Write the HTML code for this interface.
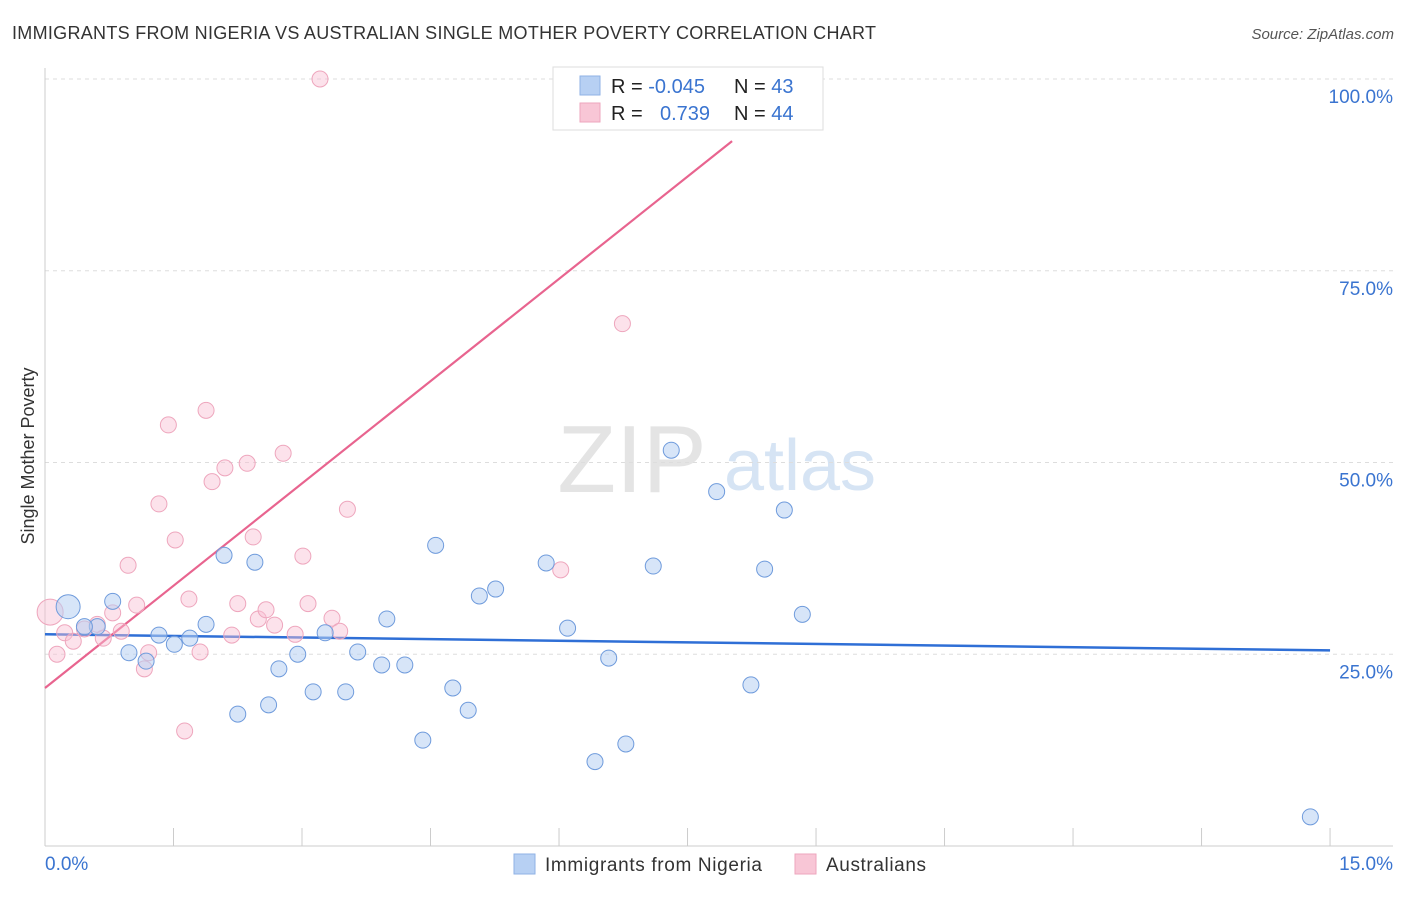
<!DOCTYPE html>
<html><head><meta charset="utf-8"><style>
body{margin:0;background:#fff;font-family:"Liberation Sans",sans-serif;}
svg text{font-family:"Liberation Sans",sans-serif;}
</style></head><body>
<svg id="c" width="1406" height="892" xmlns="http://www.w3.org/2000/svg">
<text x="12" y="39" font-size="18" fill="#333" textLength="864">IMMIGRANTS FROM NIGERIA VS AUSTRALIAN SINGLE MOTHER POVERTY CORRELATION CHART</text>
<text x="1394" y="39" font-size="15" fill="#555" text-anchor="end" font-style="italic">Source: ZipAtlas.com</text>
<text x="34" y="456" font-size="18" fill="#333" text-anchor="middle" transform="rotate(-90 34 456)">Single Mother Poverty</text>
<g><text x="632" y="492" font-size="96" fill="#e4e4e4" text-anchor="middle" font-family="Liberation Serif">ZIP</text><text x="800" y="490" font-size="72" fill="#d6e4f4" text-anchor="middle">atlas</text></g>
<g id="grid"></g><g id="axes"></g><g id="trend"></g><g id="pts"></g>
<g>
<rect x="553" y="67" width="270" height="63" fill="#fff" stroke="#ddd"/>
<rect x="580" y="76" width="20" height="19" fill="#b7d0f3" stroke="#8fb2e6"/>
<rect x="580" y="103" width="20" height="19" fill="#f8c6d6" stroke="#eea6bd"/>
<text x="611" y="93" font-size="20" fill="#222">R = <tspan fill="#3a74d0">-0.045</tspan></text>
<text x="734" y="93" font-size="20" fill="#222">N = <tspan fill="#3a74d0">43</tspan></text>
<text x="611" y="120" font-size="20" fill="#222">R = <tspan fill="#3a74d0" x="660">0.739</tspan></text>
<text x="734" y="120" font-size="20" fill="#222">N = <tspan fill="#3a74d0">44</tspan></text>
</g>
<g>
<rect x="514" y="854" width="21" height="20" fill="#b7d0f3" stroke="#8fb2e6"/>
<text x="545" y="871" font-size="19" fill="#333" textLength="217">Immigrants from Nigeria</text>
<rect x="795" y="854" width="21" height="20" fill="#f8c6d6" stroke="#eea6bd"/>
<text x="826" y="871" font-size="19" fill="#333" textLength="100">Australians</text>
</g>
</svg>
<script>
const blueX=[0.27,0.79,0.61,0.46,0.98,1.18,1.33,1.51,1.69,1.88,2.09,2.25,2.45,2.61,2.73,2.95,3.13,3.27,3.51,3.65,3.93,3.99,4.20,4.41,4.56,4.76,4.94,5.07,5.26,5.85,6.10,6.42,6.58,6.78,7.10,7.31,7.84,8.24,8.40,8.63,8.84,14.77];
const blueY=[31.2,31.9,28.6,28.6,25.2,24.1,27.5,26.3,27.1,28.9,37.9,17.2,37.0,18.4,23.1,25.0,20.1,27.8,20.1,25.3,23.6,29.6,23.6,13.8,39.2,20.6,17.7,32.6,33.5,36.9,28.4,11.0,24.5,13.3,36.5,51.6,46.2,21.0,36.1,43.8,30.2,3.8];
const pinkX=[0.06,0.14,0.23,0.33,0.46,0.61,0.68,0.79,0.89,0.97,1.07,1.16,1.21,1.33,1.44,1.52,1.63,1.68,1.81,1.88,1.95,2.10,2.18,2.25,2.36,2.43,2.49,2.58,2.68,2.78,2.92,3.01,3.07,3.21,3.35,3.44,3.53,6.02,6.74,6.15,7.65];
const pinkY=[30.5,25.0,27.8,26.7,28.3,28.9,27.1,30.4,28.0,36.6,31.4,23.1,25.2,44.6,54.9,39.9,15.0,32.2,25.3,56.8,47.5,49.3,27.5,31.6,49.9,40.3,29.6,30.8,28.8,51.2,27.6,37.8,31.6,100,29.7,28.0,43.9,36.0,68.1,100,100];
const blueTrend=[27.6,25.5];
const pinkTrend=[20.6,91.9];
const pinkTrendEndX=8.02;
const yTicks=[25,50,75,100];
const xTickVals=[0,1.5,3,4.5,6,7.5,9,10.5,12,13.5,15];
const NS='http://www.w3.org/2000/svg';
const X=v=>45+v*85.67, Y=v=>846-v*7.67;
function mk(p,t,a){const e=document.createElementNS(NS,t);for(const k in a)e.setAttribute(k,a[k]);document.getElementById(p).appendChild(e);return e;}
yTicks.forEach(v=>{
 const g=mk('grid','line',{x1:45,x2:1393,y1:Y(v),y2:Y(v),stroke:'#ddd','stroke-dasharray':'4 4'});
 
 
 const t=mk('grid','text',{x:1393,y:Y(v)+24,'font-size':19,fill:'#3a74d0','text-anchor':'end'});
 t.textContent=v.toFixed(1)+'%';
 
 
});
let a=mk('axes','line',{x1:45,x2:45,y1:68,y2:846,stroke:'#ccc'});


a=mk('axes','line',{x1:45,x2:1393,y1:846,y2:846,stroke:'#ccc'});


xTickVals.forEach(v=>{const t=mk('axes','line',{x1:X(v),x2:X(v),y1:828,y2:846,stroke:'#ccc'});
 
 });
let l=mk('axes','text',{x:45,y:870,'font-size':19,fill:'#3a74d0'});l.textContent='0.0%';


l=mk('axes','text',{x:1393,y:870,'font-size':19,fill:'#3a74d0','text-anchor':'end'});l.textContent='15.0%';


for(let i=0;i<pinkX.length;i++){const c=mk('pts','circle',{cx:X(pinkX[i]),cy:Y(pinkY[i]),r:i==0?13:8,fill:'rgba(248,190,210,0.45)',stroke:'#eea6bd','stroke-width':1});
 
 }
for(let i=0;i<blueX.length;i++){const c=mk('pts','circle',{cx:X(blueX[i]),cy:Y(blueY[i]),r:i==0?12:8,fill:'rgba(183,208,243,0.55)',stroke:'#6f9bdc','stroke-width':1});
 
 }
let tl=mk('trend','line',{x1:X(0),y1:Y(blueTrend[0]),x2:X(15),y2:Y(blueTrend[1]),stroke:'#2f6fd6','stroke-width':2.5});


tl=mk('trend','line',{x1:X(0),y1:Y(pinkTrend[0]),x2:X(pinkTrendEndX),y2:Y(pinkTrend[1]),stroke:'#e8648f','stroke-width':2.2});


</script>
</body></html>
